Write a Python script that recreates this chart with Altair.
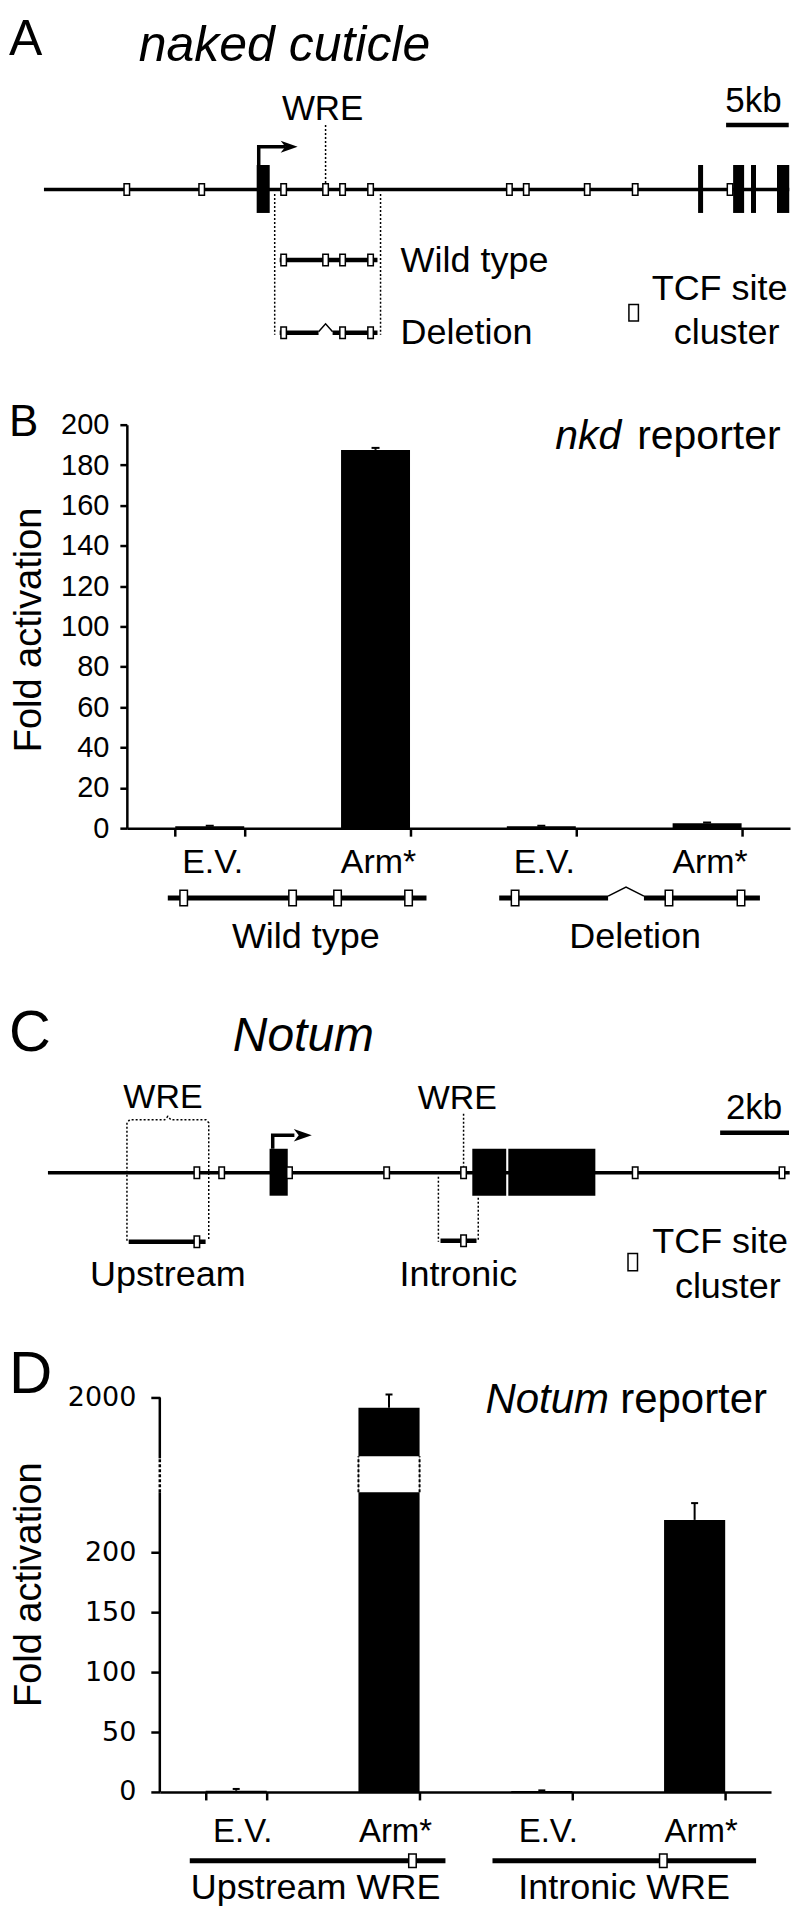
import altair as alt
import pandas as pd

FONT = "Liberation Sans"
DFONT = "DejaVu Sans"

# ===================== DATA =====================
# --- Panel A: naked cuticle locus (positions in kb from left end of drawn region)
nkd_locus = [0.0, 58.3]
nkd_tcf_sites = [6.48, 12.34, 18.75, 22.03, 23.36, 25.55, 36.41, 37.73, 42.50, 46.25, 53.67]
nkd_exon_start = [16.64, 51.17, 53.91, 55.31, 57.34]
nkd_exon_end = [17.66, 51.56, 54.77, 55.70, 58.3]
nkd_tss = 16.80
nkd_wre_site = 22.03
nkd_fragment = [18.05, 26.33]
nkd_wt_span = [18.44, 26.09]
nkd_wt_sites = [18.75, 22.03, 23.36, 25.55]
nkd_del_gap = [21.48, 22.58]
nkd_del_sites = [18.75, 23.36, 25.55]
nkd_scale_kb = [53.36, 58.36]          # 5 kb scale bar

# --- Panel B: nkd reporter
nkd_conditions = ["WT E.V.", "WT Arm*", "Del E.V.", "Del Arm*"]
nkd_tick_labels = ["E.V.", "Arm*", "E.V.", "Arm*"]
nkd_fold = [1.0, 187.5, 1.0, 2.5]
nkd_sem = [0.2, 1.0, 0.2, 0.3]
nkd_yticks = [0, 20, 40, 60, 80, 100, 120, 140, 160, 180, 200]
nkd_construct_names = ["Wild type", "Deletion"]
wt_construct_len = 7.65
wt_construct_sites = [0.47, 3.69, 5.02, 7.12]
del_construct_len = 7.71
del_construct_gap = [3.22, 4.28]
del_construct_sites = [0.47, 5.02, 7.15]

# --- Panel C: Notum locus (kb)
notum_locus = [0.0, 21.22]
notum_tcf_sites = [4.26, 4.97, 6.91, 9.69, 11.89, 16.80, 21.00]
notum_exon_start = [6.34, 12.14, 13.17]
notum_exon_end = [6.86, 13.11, 15.66]
notum_tss = 6.43
notum_up_fragment = [2.26, 4.60]
notum_up_span = [2.31, 4.51]
notum_up_sites = [4.26]
notum_int_site = 11.89
notum_int_fragment = [11.17, 12.31]
notum_int_span = [11.23, 12.26]
notum_scale_kb = [19.23, 21.23]        # 2 kb scale bar

# --- Panel D: Notum reporter
notum_conditions = ["Up E.V.", "Up Arm*", "Int E.V.", "Int Arm*"]
notum_tick_labels = ["E.V.", "Arm*", "E.V.", "Arm*"]
notum_fold = [1.0, 1930.0, 0.8, 227.0]
notum_sem = [1.5, 90.0, 0.5, 14.0]
notum_yticks = [0, 50, 100, 150, 200, 2000]
notum_break = [250, 1600]
notum_construct_names = ["Upstream WRE", "Intronic WRE"]
up_construct_site = 0.871
int_construct_site = 0.648

# ===================== LAYOUT =====================
X0 = 126      # page x of the shared panel origin (B y-axis)
PW = 664


def sx(page_x):
    return page_x - X0


LEFT = sx(8)


def lin(domain, rng):
    return alt.Scale(domain=domain, range=rng, nice=False, zero=False)


def ident(h):
    return lin([0, h], [0, h])


def X(f, s):
    return alt.X(f"{f}:Q", scale=s, axis=None)


def Y(f, s):
    return alt.Y(f"{f}:Q", scale=s, axis=None)


def hseg(segs, xs, ys, w, dash=None):
    df = pd.DataFrame(segs, columns=["x", "x2", "y"])
    mk = dict(color="black", strokeWidth=w, strokeCap="butt")
    if dash:
        mk["strokeDash"] = dash
    return alt.Chart(df).mark_rule(**mk).encode(x=X("x", xs), x2="x2:Q", y=Y("y", ys))


def vseg(segs, xs, ys, w, dash=None):
    df = pd.DataFrame(segs, columns=["x", "y", "y2"])
    mk = dict(color="black", strokeWidth=w, strokeCap="butt")
    if dash:
        mk["strokeDash"] = dash
    return alt.Chart(df).mark_rule(**mk).encode(x=X("x", xs), y=Y("y", ys), y2="y2:Q")


def polyline(pts, xs, ys, w, dash=None):
    df = pd.DataFrame({"x": [p[0] for p in pts], "y": [p[1] for p in pts],
                       "o": list(range(len(pts)))})
    mk = dict(color="black", strokeWidth=w, strokeJoin="miter", strokeCap="butt")
    if dash:
        mk["strokeDash"] = dash
    return alt.Chart(df).mark_line(**mk).encode(x=X("x", xs), y=Y("y", ys),
                                                order=alt.Order("o:Q"))


def blocks(rs, xs, ys):
    df = pd.DataFrame(rs, columns=["x", "x2", "y", "y2"])
    return alt.Chart(df).mark_rect(color="black").encode(
        x=X("x", xs), x2="x2:Q", y=Y("y", ys), y2="y2:Q")


def sites(xvals, y, xs, ys, w, h, sw=1.5):
    side = h - sw
    r = (w - sw) / side
    path = f"M{-r:.3f},-1L{r:.3f},-1L{r:.3f},1L{-r:.3f},1Z"
    df = pd.DataFrame({"x": xvals, "y": [y] * len(xvals)})
    return alt.Chart(df).mark_point(shape=path, size=side * side, filled=True, fill="white",
                                    stroke="black", strokeWidth=sw, opacity=1).encode(
        x=X("x", xs), y=Y("y", ys))


ARROW = "M-1,-0.7L1,0L-1,0.7L-0.45,0Z"


def arrowhead(x, y, xs, ys, size):
    df = pd.DataFrame({"x": [x], "y": [y]})
    return alt.Chart(df).mark_point(shape=ARROW, size=size, filled=True, color="black",
                                    opacity=1).encode(x=X("x", xs), y=Y("y", ys))


def label(rows, xs, ys, size, align="left", style="normal", font=FONT):
    df = pd.DataFrame(rows, columns=["x", "y", "t"])
    return alt.Chart(df).mark_text(font=font, fontSize=size, fontStyle=style, align=align,
                                   baseline="alphabetic", color="black").encode(
        x=X("x", xs), y=Y("y", ys), text="t:N")


def free_text(t, x, y, size, style="normal", font=FONT, align="left"):
    return alt.Chart(pd.DataFrame({"t": [t]})).mark_text(
        font=font, fontSize=size, fontStyle=style, align=align, baseline="alphabetic",
        color="black").encode(x=alt.value(x), y=alt.value(y), text="t:N")


def label_expr(cats, labels):
    expr = "''"
    for c, l in reversed(list(zip(cats, labels))):
        expr = f"datum.value === '{c}' ? '{l}' : ({expr})"
    return expr


# ===================== ROW A: nkd locus =====================
HA = 415
A_PX_PER_KB = 12.8
xa = lin([0, 1], [sx(43), sx(43) + A_PX_PER_KB])
ya = ident(HA)
GA = 179.5
mid_gap = (nkd_del_gap[0] + nkd_del_gap[1]) / 2
rowA = alt.layer(
    hseg([(nkd_locus[0], nkd_locus[1], GA)], xa, ya, 3.5),
    blocks([(s, e, 155, 203) for s, e in zip(nkd_exon_start, nkd_exon_end)], xa, ya),
    polyline([(nkd_tss, 155), (nkd_tss, 136.7), (18.9, 136.7)], xa, ya, 3.5),
    arrowhead(19.18, 136.7, xa, ya, 289),
    vseg([(nkd_wre_site, 115, 173)], xa, ya, 1.5, [2, 2]),
    vseg([(nkd_fragment[0], 184, 325), (nkd_fragment[1], 184, 325)], xa, ya, 1.5, [2, 2]),
    hseg([(nkd_wt_span[0], nkd_wt_span[1], 250)], xa, ya, 4.5),
    hseg([(nkd_wt_span[0], nkd_del_gap[0], 323), (nkd_del_gap[1], nkd_wt_span[1], 323)], xa, ya, 4.5),
    polyline([(nkd_del_gap[0], 322), (mid_gap, 314), (nkd_del_gap[1], 322)], xa, ya, 1.5),
    sites(nkd_tcf_sites, GA, xa, ya, 7, 13),
    sites(nkd_wt_sites, 250, xa, ya, 7, 13),
    sites(nkd_del_sites, 323, xa, ya, 7, 13),
    hseg([(nkd_scale_kb[0], nkd_scale_kb[1] - 0.1, 115)], xa, ya, 4.5),
    sites([46.13], 303, xa, ya, 11, 18),
    label([((8 - 43) / A_PX_PER_KB, 45, "A")], xa, ya, 50),
    label([(7.42, 51, "naked cuticle")], xa, ya, 50, style="italic"),
    label([(21.8, 110, "WRE")], xa, ya, 35, align="center"),
    label([(55.5, 102, "5kb")], xa, ya, 35, align="center"),
    label([(27.9, 262, "Wild type"), (27.9, 334, "Deletion")], xa, ya, 36),
    label([(52.85, 290, "TCF site"), (53.4, 334, "cluster")], xa, ya, 36, align="center"),
).properties(width=PW, height=HA)

# ===================== ROW B: nkd reporter bars =====================
HB = 404
b_df = pd.DataFrame({"cond": nkd_conditions, "fold": nkd_fold, "sem": nkd_sem})
b_df["hi"] = b_df["fold"] + b_df["sem"]
xB_scale = alt.Scale(domain=nkd_conditions, paddingInner=0.584, paddingOuter=0.292)
xB_axis = alt.Axis(tickBand="extent", domainColor="black", domainWidth=2.5, tickColor="black",
                   tickWidth=2.5, tickSize=8, labelExpr=label_expr(nkd_conditions, nkd_tick_labels),
                   labelFont=FONT, labelFontSize=34, labelColor="black", labelPadding=9.5,
                   labelOffset=2.5, labelAngle=0, grid=False)
yB_scale = alt.Scale(domain=[0, 200], nice=False, zero=True)
yB_axis = alt.Axis(values=nkd_yticks, format="d", domainColor="black", domainWidth=2.5,
                   tickColor="black", tickWidth=2.5, tickSize=7, labelFont=FONT,
                   labelFontSize=29, labelColor="black", labelPadding=11, grid=False,
                   labelOverlap=False, labelFlush=False,
                   titleFont=FONT, titleFontSize=38, titleFontWeight="normal",
                   titleColor="black", titleX=29 - 126, titleY=205, titleAngle=270,
                   titleAlign="center", titleBaseline="middle")


def xB(**kw):
    return alt.X("cond:N", sort=nkd_conditions, scale=xB_scale, axis=xB_axis, title=None, **kw)


def yB(f):
    return alt.Y(f"{f}:Q", scale=yB_scale, axis=yB_axis, title="Fold activation")


rowB = alt.layer(
    alt.Chart(b_df).mark_bar(color="black").encode(x=xB(), y=yB("fold")),
    alt.Chart(b_df).mark_rule(color="black", strokeWidth=2).encode(x=xB(), y=yB("fold"), y2="hi:Q"),
    alt.Chart(b_df).mark_tick(color="black", size=8, thickness=2, opacity=1).encode(x=xB(), y=yB("hi")),
    free_text("B", LEFT, 11, 44),
    free_text("nkd", sx(555), 24, 41, style="italic"),
    free_text("reporter", sx(637), 24, 41),
).properties(width=sx(790), height=HB)

# ===================== ROW B constructs =====================
HBc = 133
B_PX_PER_KB = 33.86
xbc = lin([0, 1], [sx(167), sx(167) + B_PX_PER_KB])
ybc = ident(HBc)
DEL_OFF = 9.8
g0, g1 = del_construct_gap
rowBc = alt.layer(
    hseg([(0, wt_construct_len, 70)], xbc, ybc, 5),
    hseg([(DEL_OFF, DEL_OFF + g0, 70), (DEL_OFF + g1, DEL_OFF + del_construct_len, 70)], xbc, ybc, 5),
    polyline([(DEL_OFF + g0, 68), (DEL_OFF + (g0 + g1) / 2, 59), (DEL_OFF + g1, 68)], xbc, ybc, 1.5),
    sites(wt_construct_sites, 70, xbc, ybc, 9, 17),
    sites([DEL_OFF + s for s in del_construct_sites], 70, xbc, ybc, 9, 17),
    label([(4.08, 120, nkd_construct_names[0]), (13.82, 120, nkd_construct_names[1])],
          xbc, ybc, 36, align="center"),
).properties(width=PW, height=HBc)

# ===================== ROW C: Notum locus =====================
HC = 437
C_PX_PER_KB = 35.0
xc = lin([0, 1], [sx(47), sx(47) + C_PX_PER_KB])
yc = ident(HC)
GC = 212
ul, ur = notum_up_fragment
um = (ul + ur) / 2
bracket = [(ul, 280), (ul, 162), (ul + 0.08, 159), (um - 0.09, 159), (um, 155.5),
           (um + 0.09, 159), (ur - 0.08, 159), (ur, 162), (ur, 280)]
rowC = alt.layer(
    hseg([(notum_locus[0], notum_locus[1], GC)], xc, yc, 3.5),
    blocks([(s, e, 188, 235) for s, e in zip(notum_exon_start, notum_exon_end)], xc, yc),
    polyline([(notum_tss, 188), (notum_tss, 174.5), (7.05, 174.5)], xc, yc, 3.5),
    arrowhead(7.29, 174.5, xc, yc, 324),
    polyline(bracket, xc, yc, 1.5, [2, 2]),
    vseg([(notum_int_site, 153, 206)], xc, yc, 1.5, [2, 2]),
    vseg([(notum_int_fragment[0], 216, 281), (notum_int_fragment[1], 237, 281)], xc, yc, 1.5, [2, 2]),
    hseg([(notum_up_span[0], notum_up_span[1], 281)], xc, yc, 4.5),
    hseg([(notum_int_span[0], notum_int_span[1], 280)], xc, yc, 4.5),
    sites(notum_tcf_sites, GC, xc, yc, 7, 13),
    sites(notum_up_sites, 281, xc, yc, 7, 13),
    sites([notum_int_site], 280, xc, yc, 7, 13),
    hseg([(notum_scale_kb[0], notum_scale_kb[1] - 0.03, 172)], xc, yc, 4.5),
    sites([16.73], 301.5, xc, yc, 11, 19),
    label([((8 - 47) / C_PX_PER_KB, 90, "C")], xc, yc, 58),
    label([(5.29, 90, "Notum")], xc, yc, 48, style="italic"),
    label([(3.29, 147, "WRE"), (11.71, 148, "WRE")], xc, yc, 34, align="center"),
    label([(20.2, 158, "2kb")], xc, yc, 35, align="center"),
    label([(3.43, 325, "Upstream"), (11.74, 325, "Intronic")], xc, yc, 36, align="center"),
    label([(19.23, 292, "TCF site"), (19.45, 337, "cluster")], xc, yc, 36, align="center"),
).properties(width=PW, height=HC)

# ===================== ROW D: Notum reporter bars =====================
HD = 395
DAX = sx(159)          # D y-axis position within the panel
d_df = pd.DataFrame({"cond": notum_conditions, "fold": notum_fold, "sem": notum_sem})
d_df["hi"] = d_df["fold"] + d_df["sem"]
xD_scale = alt.Scale(domain=notum_conditions, range=[DAX, sx(771)],
                     paddingInner=0.6, paddingOuter=0.3)
xD_axis = alt.Axis(tickBand="extent", domainColor="black", domainWidth=2.5, tickColor="black",
                   tickWidth=2.5, tickSize=8, labelExpr=label_expr(notum_conditions, notum_tick_labels),
                   labelFont=FONT, labelFontSize=33, labelColor="black", labelPadding=15.5,
                   labelOffset=6, labelAngle=0, grid=False)
yD_scale = alt.Scale(domain=[0, notum_break[0], notum_break[1], 2000], range=[HD, 95, 59, 0],
                     nice=False, zero=False)
yD_axis = alt.Axis(values=notum_yticks, format="d", domain=False, offset=-DAX,
                   tickColor="black", tickWidth=2.5,
                   tickSize=9, labelFont=DFONT, labelFontSize=27, labelColor="black",
                   labelPadding=15, grid=False, labelOverlap=False, labelFlush=False,
                   titleFont=FONT, titleFontSize=38, titleFontWeight="normal",
                   titleColor="black", titleX=29 - 159, titleY=187, titleAngle=270,
                   titleAlign="center", titleBaseline="middle")


def xD(**kw):
    return alt.X("cond:N", sort=notum_conditions, scale=xD_scale, axis=xD_axis, title=None, **kw)


def yD(f):
    return alt.Y(f"{f}:Q", scale=yD_scale, axis=yD_axis, title="Fold activation")


brk = d_df[d_df["fold"] > notum_break[1]].copy()
brk["lo"] = notum_break[0]
brk["up"] = notum_break[1]
axis_solid = pd.DataFrame({"lo": [0, 1525], "up": [notum_break[0], 2000]})
axis_dash = pd.DataFrame({"lo": [notum_break[0]], "up": [1525]})

rowD = alt.layer(
    alt.Chart(d_df).mark_bar(color="black").encode(x=xD(), y=yD("fold")),
    alt.Chart(brk).mark_bar(color="white").encode(x=xD(), y=yD("lo"), y2="up:Q"),
    alt.Chart(brk).mark_rule(color="black", strokeWidth=2, strokeDash=[3, 2]).encode(
        x=xD(bandPosition=0), y=yD("lo"), y2="up:Q"),
    alt.Chart(brk).mark_rule(color="black", strokeWidth=2, strokeDash=[3, 2]).encode(
        x=xD(bandPosition=1), y=yD("lo"), y2="up:Q"),
    alt.Chart(d_df).mark_rule(color="black", strokeWidth=2).encode(x=xD(), y=yD("fold"), y2="hi:Q"),
    alt.Chart(d_df).mark_tick(color="black", size=7, thickness=2, opacity=1).encode(x=xD(), y=yD("hi")),
    alt.Chart(axis_solid).mark_rule(color="black", strokeWidth=2.5).encode(
        x=alt.value(DAX), y=yD("lo"), y2="up:Q"),
    alt.Chart(axis_dash).mark_rule(color="black", strokeWidth=2.5, strokeDash=[3, 2]).encode(
        x=alt.value(DAX), y=yD("lo"), y2="up:Q"),
    free_text("D", LEFT, -4, 60),
    free_text("Notum", sx(485), 16, 42, style="italic"),
    free_text("reporter", sx(620), 16, 42),
).properties(width=sx(771), height=HD)

# ===================== ROW D constructs =====================
HDc = 123
xdc = lin([0, 1], [sx(189), sx(189) + 256])
ydc = ident(HDc)
INT_OFF, INT_LEN = 1.184, 1.031
rowDc = alt.layer(
    hseg([(0, 1, 69), (INT_OFF, INT_OFF + INT_LEN, 69)], xdc, ydc, 5),
    sites([up_construct_site, INT_OFF + int_construct_site * INT_LEN], 69, xdc, ydc, 9, 15),
    label([(0.492, 107, notum_construct_names[0]), (1.699, 107, notum_construct_names[1])],
          xdc, ydc, 36, align="center"),
).properties(width=PW, height=HDc)

chart = alt.vconcat(rowA, rowB, rowBc, rowC, rowD, rowDc, spacing=0, bounds="flush").properties(
    padding=0, background="white").configure_view(stroke="transparent")

chart.save("out.html", embed_options={"renderer": "svg", "actions": False})
